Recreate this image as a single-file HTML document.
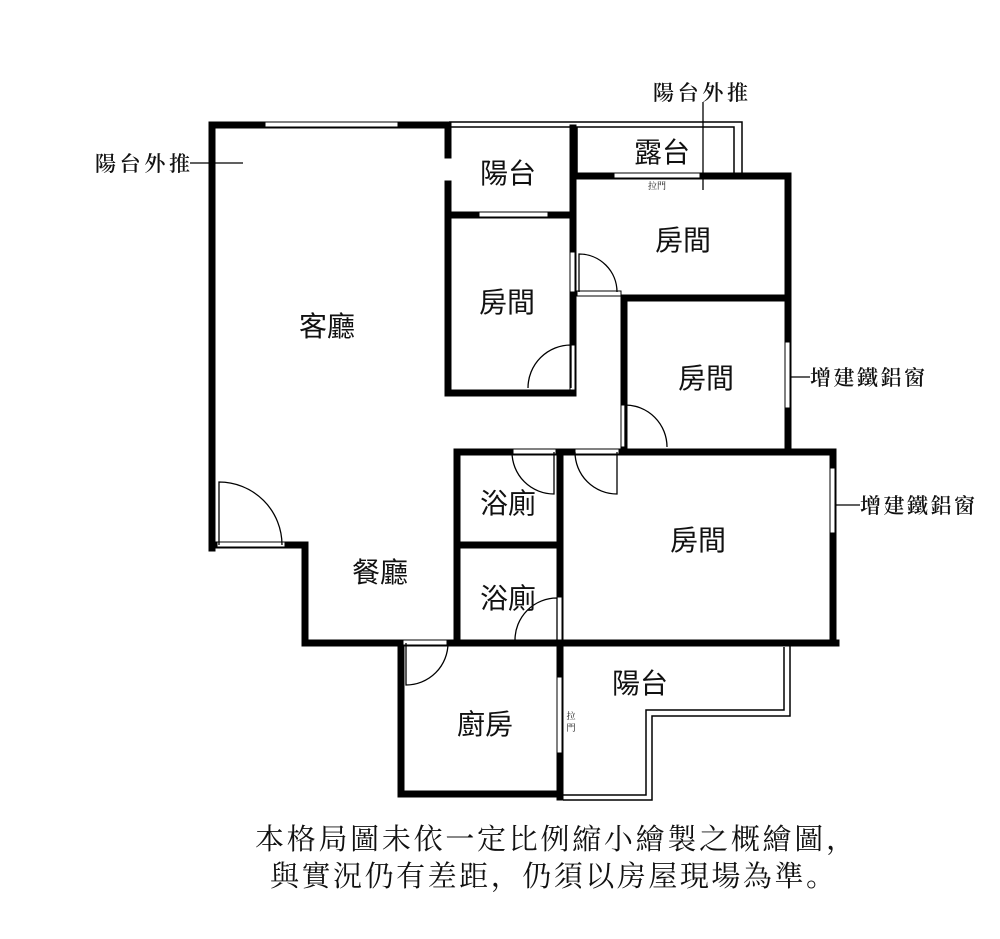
<!DOCTYPE html>
<html><head><meta charset="utf-8"><style>
html,body{margin:0;padding:0;background:#fff;}
svg{display:block;}
text{fill:#111;}
.sf{font-family:"Noto Serif CJK SC","Liberation Serif",serif;}
.ss{font-family:"Liberation Sans","Noto Sans CJK TC",sans-serif;}
</style></head><body>
<svg width="1000" height="939" viewBox="0 0 1000 939" xmlns="http://www.w3.org/2000/svg">
<g fill="none" stroke="#000" stroke-width="1.5">
  <polyline points="449,122 742,122 742,176"/>
  <polyline points="449,127 573,127"/>
  <rect x="577" y="127" width="157" height="47"/>
  <polyline points="563,800 652,800 652,716 790,716 790,645"/>
  <polyline points="563,795 646,795 646,710 784,710 784,647"/>
</g>
<g stroke="#000" stroke-width="7" fill="none" stroke-linecap="square">
  <polyline points="212,548 212,125 448,125 448,155"/>
  <line x1="448" y1="184" x2="448" y2="393"/>
  <line x1="448" y1="215" x2="573" y2="215"/>
  <line x1="448" y1="393" x2="573" y2="393"/>
  <line x1="573" y1="128" x2="573" y2="393"/>
  <polyline points="577,176 788,176 788,452"/>
  <line x1="624" y1="298" x2="788" y2="298"/>
  <line x1="624" y1="298" x2="624" y2="448"/>
  <polyline points="212,545 305,545 305,643 836,643"/>
  <polyline points="457,643 457,452 833,452 833,643"/>
  <line x1="457" y1="545" x2="560" y2="545"/>
  <line x1="560" y1="452" x2="560" y2="797"/>
  <polyline points="401,643 401,794 560,794"/>
</g>
<g fill="#fff" stroke="#000" stroke-width="1">
  <rect x="265" y="122" width="133" height="5"/>
  <rect x="479" y="212" width="69" height="5"/>
  <rect x="614" y="173" width="86" height="5"/>
  <rect x="785" y="342" width="5" height="66"/>
  <rect x="830" y="468" width="5" height="65"/>
  <rect x="557" y="677" width="5" height="76"/>
  <rect x="217" y="542" width="68" height="5"/>
  <rect x="403" y="640" width="44" height="5"/>
  <rect x="513" y="449" width="43" height="5"/>
  <rect x="575" y="449" width="44" height="5"/>
  <rect x="557" y="597" width="5" height="43"/>
  <rect x="570" y="345" width="5" height="45"/>
  <rect x="621" y="405" width="5" height="42"/>
  <rect x="577" y="291" width="44" height="5"/>
  <rect x="570" y="252" width="5" height="40"/>
</g>
<g fill="none" stroke="#000" stroke-width="1.3">
  <path d="M219,545 L219,482 A63,63 0 0 1 282,545"/>
  <path d="M571,388 L571,345 A43,43 0 0 0 528,388"/>
  <path d="M579,292 L579,254 A38,38 0 0 1 617,292"/>
  <path d="M625,447 L625,405 A42,42 0 0 1 667,447"/>
  <path d="M554,452 L554,494 A42,42 0 0 1 512,452"/>
  <path d="M617,452 L617,494 A42,42 0 0 1 575,452"/>
  <path d="M557,640 L557,598 A42,42 0 0 0 515,640"/>
  <path d="M406,643 L406,685 A42,42 0 0 0 448,643"/>
</g>
<g stroke="#000" stroke-width="1.3">
  <line x1="190" y1="163" x2="243" y2="163"/>
  <line x1="703" y1="102" x2="703" y2="190"/>
  <line x1="790" y1="377" x2="810" y2="377"/>
  <line x1="836" y1="505" x2="860" y2="505"/>
</g>
<g font-size="21" class="sf" font-weight="600">
  <text x="95" y="171" textLength="95">陽台外推</text>
  <text x="653" y="100" textLength="95">陽台外推</text>
  <text x="810" y="385" textLength="115">增建鐵鋁窗</text>
  <text x="860" y="513" textLength="115">增建鐵鋁窗</text>
</g>
<g font-size="28" text-anchor="middle" class="ss">
  <text x="327" y="336">客廳</text>
  <text x="508" y="183">陽台</text>
  <text x="662" y="162">露台</text>
  <text x="507" y="312">房間</text>
  <text x="683" y="250">房間</text>
  <text x="706" y="388">房間</text>
  <text x="508" y="513">浴廁</text>
  <text x="508" y="608">浴廁</text>
  <text x="698" y="550">房間</text>
  <text x="380" y="582">餐廳</text>
  <text x="485" y="734">廚房</text>
  <text x="640" y="693">陽台</text>
</g>
<g font-size="9" text-anchor="middle" class="sf">
  <text x="657" y="189">拉門</text>
  <text x="571" y="719">拉</text>
  <text x="571" y="731">門</text>
</g>
<g font-size="29" class="sf">
  <text x="255" y="849" textLength="600">本格局圖未依一定比例縮小繪製之概繪圖，</text>
  <text x="270" y="886" textLength="565">與實況仍有差距，仍須以房屋現場為準。</text>
</g>
</svg>
</body></html>
